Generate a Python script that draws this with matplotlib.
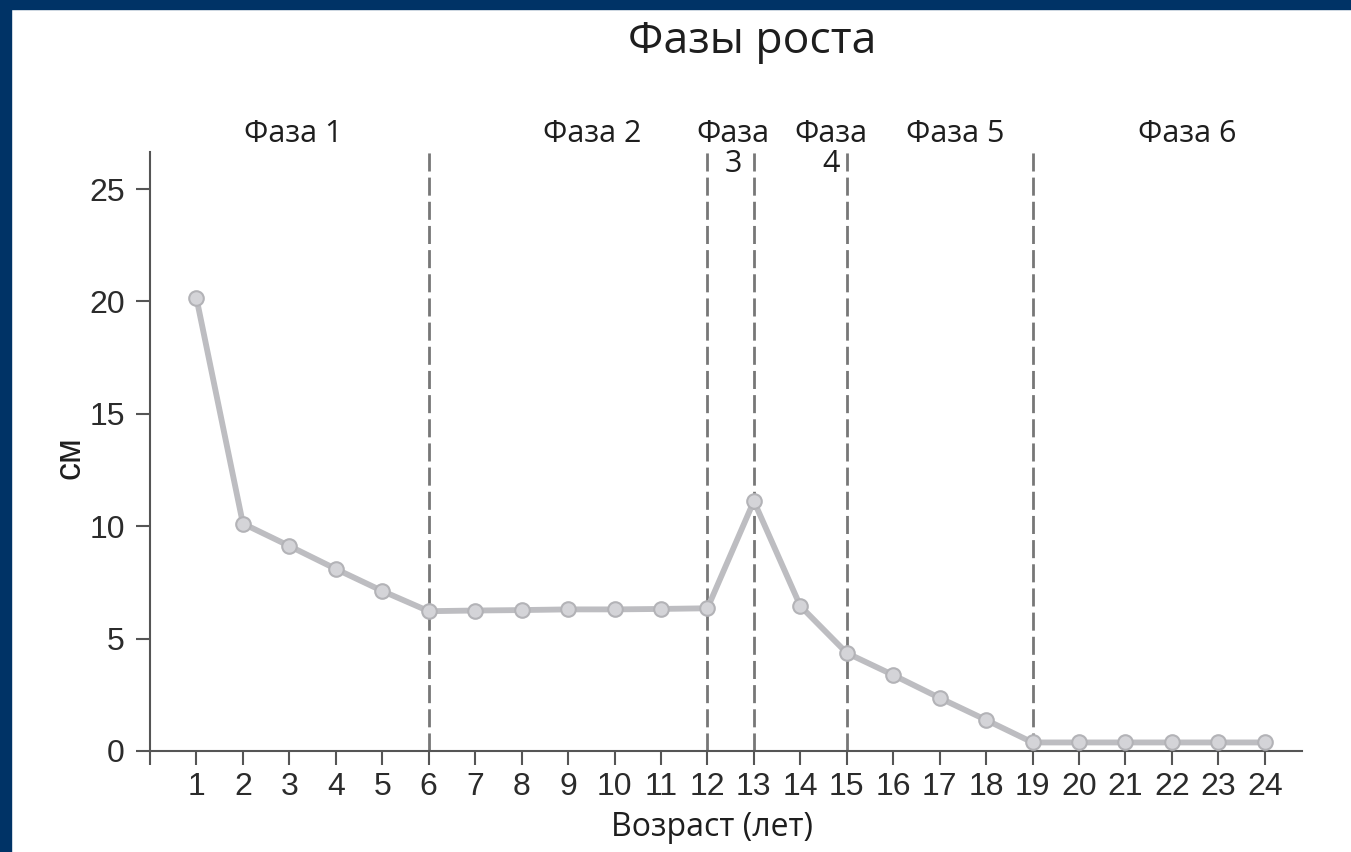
import matplotlib.pyplot as plt
import matplotlib.transforms as mtransforms
from matplotlib.patches import Rectangle

# data
ages = list(range(1, 25))
growth = [20.15, 10.12, 9.12, 8.1, 7.12, 6.22, 6.25, 6.27, 6.3, 6.3, 6.32, 6.35,
          11.12, 6.45, 4.36, 3.38, 2.36, 1.38, 0.38, 0.38, 0.38, 0.38, 0.38, 0.38]
phase_borders = [6, 12, 13, 15, 19]
phase_names = ['Фаза 1', 'Фаза 2', 'Фаза\n3', 'Фаза\n4', 'Фаза 5', 'Фаза 6']
phase_pos = [3.09, 9.52, 12.55, 14.66, 17.33, 22.34]

W, H = 1351, 852
fig = plt.figure(figsize=(W / 100, H / 100), dpi=100)
fig.patch.set_facecolor('white')

# dark blue frame on top and left
navy = '#003366'
fig.patches.append(Rectangle((0, 1 - 9 / H), 1, 9 / H, transform=fig.transFigure,
                             color=navy, zorder=0))
fig.patches.append(Rectangle((0, 0), 11 / W, 1, transform=fig.transFigure,
                             color=navy, zorder=0))

ax = fig.add_axes([150 / W, 101 / H, (1302 - 150) / W, (751 - 152) / H])
ax.set_xlim(0, 24.8)
ax.set_ylim(0, 26.65)

for sp in ['top', 'right']:
    ax.spines[sp].set_visible(False)
for sp in ['left', 'bottom']:
    ax.spines[sp].set_color('#555555')
    ax.spines[sp].set_linewidth(1.5)

for xb in phase_borders:
    ax.axvline(xb, color='#777777', lw=2, dashes=(6.5, 2.2), zorder=1)

ax.plot(ages, growth, color='#bdbdc1', lw=4.2, marker='o', ms=10.5,
        markerfacecolor='#d4d4d8', markeredgecolor='#b3b3b7', markeredgewidth=1.5,
        zorder=3, solid_capstyle='round')

ax.set_xticks([0] + ages)
ax.set_xticklabels([''] + [str(a) for a in ages])
ax.set_yticks([0, 5, 10, 15, 20, 25])
ax.tick_params(axis='both', direction='out', color='#555555', width=1.5,
               labelsize=23, labelcolor='#2b2b2b')
ax.tick_params(axis='x', length=10, pad=5)
ax.tick_params(axis='y', length=10, pad=8)
for lab in ax.get_xticklabels() + ax.get_yticklabels():
    lab.set_family('Liberation Sans')

trans = mtransforms.blended_transform_factory(ax.transData, ax.transAxes)
for name, xp in zip(phase_names, phase_pos):
    ax.text(xp, 1 + 33 / 599, name, transform=trans, ha='center', va='top',
            fontsize=22, family='Open Sans', color='#1e1e1e', linespacing=1.0)

fig.text(752 / W, 1 - 42 / H, 'Фазы роста', ha='center', va='center',
         fontsize=32, family='Open Sans', color='#1e1e1e')
fig.text(70 / W, 1 - 458 / H, 'см', ha='center', va='center', rotation=90,
         fontsize=26, family='Liberation Sans', color='#1e1e1e')
fig.text(712 / W, 1 - 828 / H, 'Возраст (лет)', ha='center', va='center',
         fontsize=23, family='Open Sans', color='#1e1e1e')

fig.savefig('out.png', dpi=100)
